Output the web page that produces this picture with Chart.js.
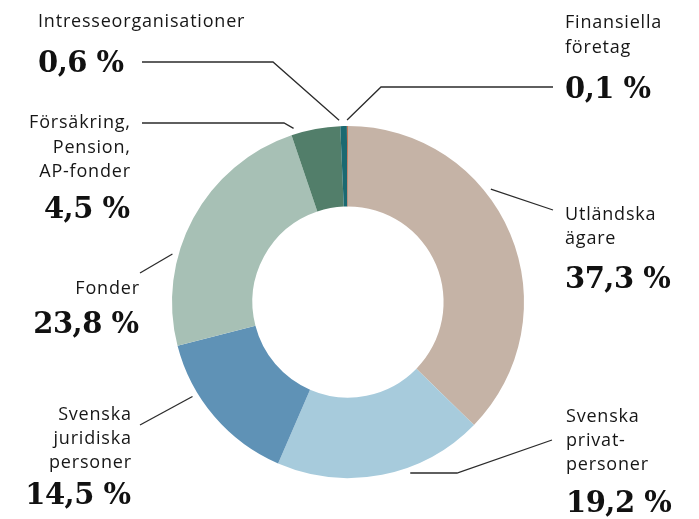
<!DOCTYPE html>
<html lang="sv">
<head>
<meta charset="utf-8">
<title>Ägarfördelning</title>
<script src="https://cdn.jsdelivr.net/npm/chart.js@4.4.1/dist/chart.umd.min.js"></script>
<style>
  html, body { margin: 0; padding: 0; background: #fff; }
  #wrap { width: 699px; height: 519px; }
</style>
</head>
<body>
<div id="wrap"><canvas id="chart" width="699" height="519"></canvas></div>
<script>
// data
const categories = [
  'Utländska ägare',
  'Svenska privatpersoner',
  'Svenska juridiska personer',
  'Fonder',
  'Försäkring, Pension, AP-fonder',
  'Intresseorganisationer',
  'Finansiella företag'
];
const shares = [37.3, 19.2, 14.5, 23.8, 4.5, 0.6, 0.1];
// how the category names are broken into lines in the picture
const nameLines = [
  ['Utländska', 'ägare'],
  ['Svenska', 'privat-', 'personer'],
  ['Svenska', 'juridiska', 'personer'],
  ['Fonder'],
  ['Försäkring,', 'Pension,', 'AP-fonder'],
  ['Intresseorganisationer'],
  ['Finansiella', 'företag']
];

const colors = ['#c5b3a6', '#a7cbdc', '#5f92b6', '#a7c0b5', '#527e6a', '#1b6971', '#c1775b'];

// label placement (text anchor, baselines, leader line) per slice
const labelLayout = [
  { align: 'left',  x: 565, lines: [220, 244], value: 288, angle: 51.7,  path: [[553, 210]] },
  { align: 'left',  x: 566, lines: [422, 446, 470], value: 512, angle: 160, path: [[552, 440], [457, 473]] },
  { align: 'right', x: 131, lines: [420, 444, 468], value: 504, angle: 238.7, path: [[140, 425]] },
  { align: 'right', x: 139, lines: [294], value: 333, angle: 285.3, path: [[140, 273]] },
  { align: 'right', x: 130, lines: [128, 153, 177], value: 218, angle: 342.6, path: [[142, 123], [284, 123]] },
  { align: 'left',  x: 38,  lines: [27], value: 72, angle: 357.2, path: [[142, 62], [273, 62]] },
  { align: 'left',  x: 565, lines: [28, 53], value: 98, angle: 359.7, path: [[553, 87], [381, 87]] }
];

const fmt = (v) => v.toFixed(1).replace('.', ',') + ' %';

// ritar etiketter och hänvisningslinjer
const sliceLabelPlugin = {
  id: 'sliceLabels',
  afterDraw(chart) {
    const { ctx } = chart;
    const arcs = chart.getDatasetMeta(0).data;
    if (!arcs.length) return;
    const cx = arcs[0].x;
    const cy = arcs[0].y;
    const r = arcs[0].outerRadius + 6;

    ctx.save();
    // leader lines
    ctx.strokeStyle = '#2b2b2b';
    ctx.lineWidth = 1.3;
    labelLayout.forEach((lay) => {
      const a = (lay.angle * Math.PI) / 180;
      const ex = cx + r * Math.sin(a);
      const ey = cy - r * Math.cos(a);
      ctx.beginPath();
      ctx.moveTo(lay.path[0][0], lay.path[0][1]);
      lay.path.slice(1).forEach((p) => ctx.lineTo(p[0], p[1]));
      ctx.lineTo(ex, ey);
      ctx.stroke();
    });

    // texts
    ctx.textBaseline = 'alphabetic';
    const sp = 0.8;
    labelLayout.forEach((lay, i) => {
      ctx.textAlign = lay.align;
      ctx.fillStyle = '#161616';
      ctx.font = '18px "Open Sans", sans-serif';
      ctx.letterSpacing = sp + 'px';
      nameLines[i].forEach((t, k) => {
        const x = lay.align === 'right' ? lay.x + sp : lay.x;
        ctx.fillText(t, x, lay.lines[k]);
      });
      ctx.letterSpacing = '-0.5px';
      ctx.fillStyle = '#111';
      ctx.font = 'bold 29px "DejaVu Serif", serif';
      const vx = lay.align === 'right' ? lay.x - 0.5 : lay.x;
      ctx.fillText(fmt(shares[i]), vx, lay.value);
    });
    ctx.restore();
  }
};

new Chart(document.getElementById('chart'), {
  type: 'doughnut',
  data: {
    labels: categories,
    datasets: [{
      data: shares,
      backgroundColor: colors,
      borderWidth: 0,
      hoverOffset: 0,
      cutout: '54.3%'
    }]
  },
  plugins: [sliceLabelPlugin],
  options: {
    responsive: false,
    animation: false,
    events: [],
    layout: { padding: { left: 172, right: 175, top: 126, bottom: 41 } },
    plugins: {
      legend: { display: false },
      tooltip: { enabled: false }
    }
  }
});
</script>
</body>
</html>
